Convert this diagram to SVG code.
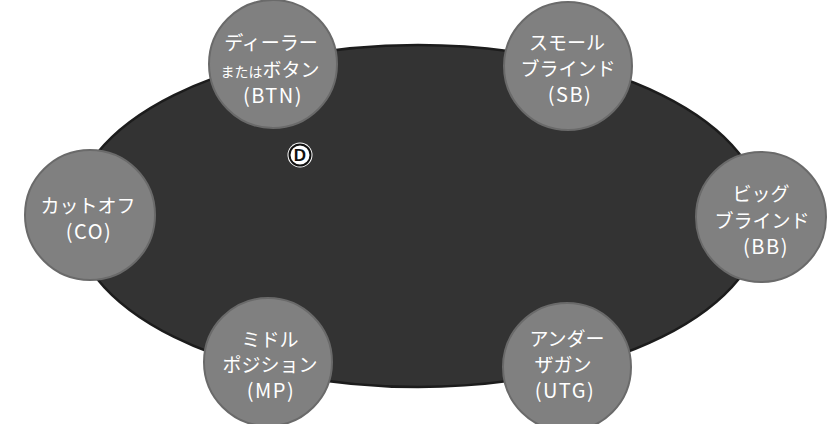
<svg xmlns="http://www.w3.org/2000/svg" width="837" height="424" viewBox="0 0 837 424">
<style>
.seat{fill:#808080;stroke:#6a6a6a;stroke-width:2}
.lbl{font-family:"Noto Sans CJK JP","Noto Sans",sans-serif;font-size:19px;fill:#ffffff;text-anchor:middle}
.lat{font-size:20px;letter-spacing:1.5px}
.sm{font-size:14px}
</style>
<rect width="837" height="424" fill="#ffffff"/>
<g id="table">
<ellipse cx="418" cy="216" rx="345" ry="171" fill="#333333" stroke="#1c1c1c" stroke-width="2.5"/>
</g>
<g id="connectors"/>
<g id="btn">
<circle class="seat" cx="273" cy="64" r="64"/>
<text class="lbl" x="271" y="50">ディーラー</text>
<text class="lbl" x="270" y="77"><tspan class="sm">または</tspan>ボタン</text>
<text class="lbl lat" x="273" y="103">(BTN)</text>
</g>
<g id="sb">
<circle class="seat" cx="568" cy="66" r="64"/>
<text class="lbl" x="567" y="50">スモール</text>
<text class="lbl" x="568" y="76">ブラインド</text>
<text class="lbl lat" x="570" y="102">(SB)</text>
</g>
<g id="co">
<circle class="seat" cx="90" cy="215" r="65"/>
<text class="lbl" x="88" y="213">カットオフ</text>
<text class="lbl lat" x="89" y="239">(CO)</text>
</g>
<g id="bb">
<circle class="seat" cx="761" cy="217" r="65"/>
<text class="lbl" x="761" y="201">ビッグ</text>
<text class="lbl" x="762" y="228">ブラインド</text>
<text class="lbl lat" x="766" y="254">(BB)</text>
</g>
<g id="mp">
<circle class="seat" cx="268" cy="362" r="64"/>
<text class="lbl" x="270" y="347">ミドル</text>
<text class="lbl" x="270" y="372">ポジション</text>
<text class="lbl lat" x="271" y="398">(MP)</text>
</g>
<g id="utg">
<circle class="seat" cx="567" cy="367" r="64"/>
<text class="lbl" x="567" y="346">アンダー</text>
<text class="lbl" x="563" y="372">ザガン</text>
<text class="lbl lat" x="565" y="398">(UTG)</text>
</g>
<g id="dealer-button">
<circle cx="300" cy="155" r="12.5" fill="#ffffff"/>
<circle cx="300" cy="155" r="10.5" fill="#ffffff" stroke="#111111" stroke-width="2"/>
<text x="300" y="161" font-family="Liberation Sans, Arial, sans-serif" font-size="17" font-weight="bold" fill="#111111" text-anchor="middle">D</text>
</g>
</svg>
